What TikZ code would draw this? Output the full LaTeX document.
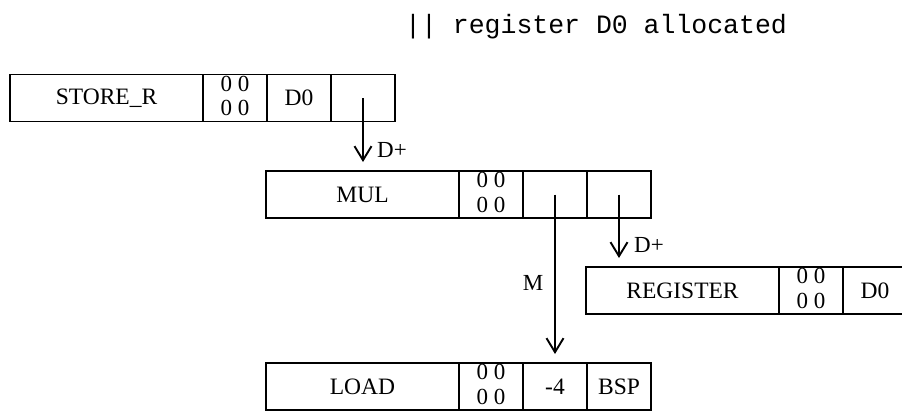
\documentclass[tikz,border=0pt]{standalone}
\usepackage{fontspec}
\setmainfont{Liberation Serif}
\newfontfamily\codefont{Liberation Mono}
\usetikzlibrary{arrows.meta}
\begin{document}
\begin{tikzpicture}[x=1pt,y=-1pt,
  cell/.style={draw, line width=1.9pt, inner sep=0pt, outer sep=0pt,
    minimum height=47pt, anchor=west, font=\fontsize{23.5}{28}\selectfont},
  opcell/.style={cell, minimum width=193pt},
  smallcell/.style={cell, minimum width=64pt},
  flagcell/.style={smallcell, align=center, text depth=4pt,
    font=\fontsize{23}{24.5}\selectfont},
  link/.style={line width=1.9pt,
    -{Straight Barb[length=14pt,width=17pt,line width=1.9pt]}, shorten >=9pt},
  lbl/.style={font=\fontsize{23}{27}\selectfont, inner sep=0pt}]
\useasboundingbox (0,0) rectangle (902,410);

% comment line above the tree
\node[anchor=base west, inner sep=0pt, font=\codefont\fontsize{26.5}{30}\selectfont]
  (note) at (405,33) {|| register D0 allocated};

% STORE_R record
\node[opcell] (s1) at (10,98) {STORE\_R};
\node[flagcell] (s2) at (s1.east) {0 0\\0 0};
\node[smallcell] (s3) at (s2.east) {D0};
\node[smallcell] (s4) at (s3.east) {};

% MUL record
\node[opcell] (m1) at (266,194.5) {MUL};
\node[flagcell] (m2) at (m1.east) {0 0\\0 0};
\node[smallcell] (m3) at (m2.east) {};
\node[smallcell] (m4) at (m3.east) {};

% REGISTER record
\node[opcell] (r1) at (586,290.5) {REGISTER};
\node[flagcell] (r2) at (r1.east) {0 0\\0 0};
\node[smallcell] (r3) at (r2.east) {D0};

% LOAD record
\node[opcell] (l1) at (266,386.5) {LOAD};
\node[flagcell] (l2) at (l1.east) {0 0\\0 0};
\node[smallcell] (l3) at (l2.east) {-4};
\node[smallcell] (l4) at (l3.east) {BSP};

% links between records
\draw[link] (s4.center) -- (s4.center |- m1.north);
\node[lbl, anchor=west] (k1) at (377,150) {D+};
\draw[link] (m4.center) -- (m4.center |- r1.north);
\node[lbl, anchor=west] (k2) at (634,245) {D+};
\draw[link] (m3.center) -- (m3.center |- l3.north);
\node[lbl] (k3) at (533,283) {M};
\end{tikzpicture}
\end{document}
